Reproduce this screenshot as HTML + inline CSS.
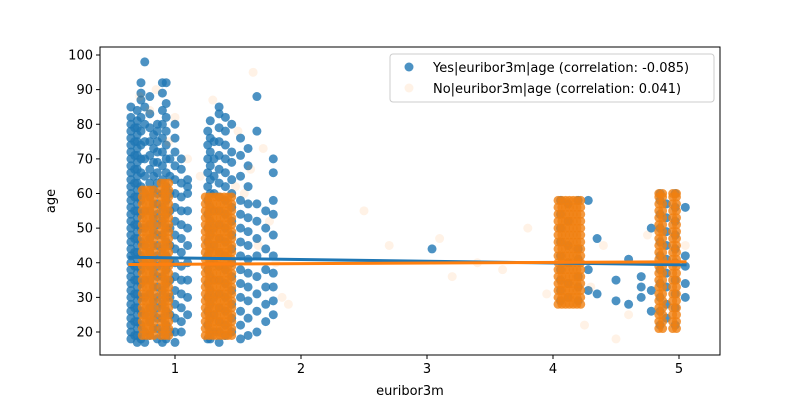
<!DOCTYPE html>
<html><head><meta charset="utf-8"><style>
body{margin:0;background:#fff}
svg text{font-family:"DejaVu Sans","Liberation Sans",sans-serif;font-size:13px;fill:#000}
</style></head><body>
<svg id="chart" width="800" height="400" xmlns="http://www.w3.org/2000/svg">
<rect width="800" height="400" fill="#fff"/>
<g id="marks"></g>
<g id="axes"></g>
</svg>
<script>
// ---- data ----
const xTicks=[1,2,3,4,5];
const yTicks=[20,30,40,50,60,70,80,90,100];
// blue (Yes) columns: x value and ages
const blueX=[0.65,0.68,0.70,0.73,0.76,0.80,0.83,0.86,0.90,0.93,0.96,1.00,1.05,1.10,1.26,1.28,1.31,1.35,1.40,1.45,1.52,1.58,1.65,1.72,1.78,3.04,4.06,4.12,4.20,4.28,4.35,4.50,4.60,4.70,4.78,4.85,4.90,4.97,5.05];
const blueAges=[
[18,20,22,24,26,28,30,32,34,36,38,40,42,44,46,48,50,52,54,56,58,60,62,64,66,68,70,72,74,76,78,80,82,85],
[19,23,27,31,35,39,43,47,51,55,59,63,67,71,75,79],
[17,19,21,23,25,27,29,31,33,35,37,39,41,43,45,47,49,51,53,55,57,59,61,63,65,67,69,71,73,75,77,79,81,84],
[18,22,26,30,34,38,42,46,50,54,58,62,66,70,74,78,82,87,89,92],
[98,85,80,75,70,65,60,55,50,45,40,35,30,25,20,17],
[19,23,27,31,35,39,43,47,51,55,59,63,67,71,75,79,83,88],
[21,25,29,33,37,41,45,49,53,57,61,65,69,73,77],
[18,21,24,27,30,33,36,39,42,45,48,51,54,57,60,63,66,69,72,75,78,80],
[17,20,24,28,32,36,40,44,48,52,56,60,64,68,72,76,80,84,89,92],
[18,22,26,30,34,38,42,46,50,54,58,62,66,70,74,78,82,86,92],
[20,25,30,35,40,45,50,55,60,65,70],
[17,20,24,28,32,36,40,44,48,52,56,60,64,68,72,76,80],
[20,23,27,31,35,39,43,47,51,55,59,63,67,70],
[25,30,35,40,45,50,55,60,62,64],
[18,22,26,30,34,38,42,46,50,54,58,62,66,70,74,78],
[18,20,24,28,32,36,40,44,48,52,56,60,64,68,72,76,81],
[20,25,30,35,40,45,50,55,60,65,70,75],
[17,20,23,27,31,35,39,43,47,51,55,59,63,67,71,75,79,83,85],
[19,22,26,30,34,38,42,46,50,54,58,62,66,70,74,78,82],
[20,24,28,32,36,40,44,48,52,56,60,64,69,72,80],
[18,22,26,30,34,38,42,46,50,54,58,65,71,76],
[19,24,29,33,37,41,45,49,53,57,62,68,73],
[88,20,26,31,36,42,47,52,57,78],
[23,28,33,38,44,50,55],
[25,29,33,37,42,48,54,58,66,70],
[44],
[29,32,35,38,42,46,50,54,58],
[30,34,40,45,52,57],
[29,33,36,41,44,58],
[32,38,58],
[31,47],
[35,29],
[28,41],
[30,33,36],
[50,26,32],
[22,26,30,34,38,42,46,50,54,58,60],
[24,28,33,37,41,45,49,53,57],
[22,27,31,35,40,44,48,52,56,60],
[56,42,39,30,34]];
// orange (No) dense clusters
const orangeDenseX=[[0.74,0.77,0.80,0.83],[0.89,0.92,0.95],[1.24,1.27,1.30,1.33,1.36,1.39,1.42,1.45],[4.04,4.07,4.10,4.13,4.16,4.19,4.22],[4.84,4.87],[4.95,4.98]];
const orangeDenseAges=[
[19,21,23,25,27,29,31,33,35,37,39,41,43,45,47,49,51,53,55,57,59,61],
[19,21,23,25,27,29,31,33,35,37,39,41,43,45,47,49,51,53,55,57,59,61,63],
[19,21,23,25,27,29,31,33,35,37,39,41,43,45,47,49,51,53,55,57,59],
[28,30,32,34,36,38,40,42,44,46,48,50,52,54,56,58],
[21,23,25,27,29,31,33,35,37,39,41,43,45,47,49,51,53,55,57,59,60],
[21,23,25,27,29,31,33,35,37,39,41,43,45,47,49,51,53,55,57,59,60]];
// orange sparse points
const orangeSparseX=[0.72,0.8,0.95,1.0,1.1,1.2,1.3,1.5,1.55,1.62,1.66,1.7,1.75,1.8,1.85,1.9,2.5,2.7,3.1,3.2,3.4,3.6,3.8,3.95,4.25,4.3,4.4,4.5,4.6,4.75,5.05,0.85,1.48,1.6];
const orangeSparseY=[88,84,75,82,70,65,87,78,60,95,45,73,52,40,30,28,55,45,47,36,40,38,50,31,22,33,45,18,25,48,45,90,62,67];
// regression lines [x0,y0,x1,y1]
const blueFit=[0.63,41.6,5.06,39.4];
const orangeFit=[0.63,39.5,5.06,40.3];

// ---- scales ----
const L=100,R=720,T=47,B=355;
const X=v=>175+(v-1)*126;
const Y=v=>332-(v-20)*3.4625;
const NS="http://www.w3.org/2000/svg";
const marks=document.getElementById('marks'), axes=document.getElementById('axes');
function mk(tag,attrs,parent){const e=document.createElementNS(NS,tag);for(const k in attrs)e.setAttribute(k,attrs[k]);parent.appendChild(e);return e;}

blueX.forEach((x,i)=>blueAges[i].forEach(a=>{
  const c=mk('circle',{cx:X(x),cy:Y(a),r:4.5,fill:'#1f77b4','fill-opacity':0.8},marks);
  
  
}));
orangeSparseX.forEach((x,i)=>{
  const c=mk('circle',{cx:X(x),cy:Y(orangeSparseY[i]),r:4.5,fill:'#ff7f0e','fill-opacity':0.1},marks);
  
  
});
orangeDenseX.forEach((xs,i)=>xs.forEach(x=>orangeDenseAges[i].forEach(a=>{
  const c=mk('circle',{cx:X(x),cy:Y(a),r:4.5,fill:'#f07f10','fill-opacity':0.8},marks);
  
  
})));
const bl=mk('line',{x1:X(blueFit[0]),y1:Y(blueFit[1]),x2:X(blueFit[2]),y2:Y(blueFit[3]),stroke:'#1f77b4','stroke-width':3},marks);


const ol=mk('line',{x1:X(orangeFit[0]),y1:Y(orangeFit[1]),x2:X(orangeFit[2]),y2:Y(orangeFit[3]),stroke:'#ff7f0e','stroke-width':3},marks);



// frame & ticks
const fr=mk('rect',{x:L,y:T,width:R-L,height:B-T,fill:'none',stroke:'#000','stroke-width':1},axes);


xTicks.forEach(t=>{
  mk('line',{x1:X(t),y1:B,x2:X(t),y2:B+4,stroke:'#000'},axes);
  const tx=mk('text',{x:X(t),y:B+18,'text-anchor':'middle'},axes);tx.textContent=t;
  
  
});
yTicks.forEach(t=>{
  mk('line',{x1:L-4,y1:Y(t),x2:L,y2:Y(t),stroke:'#000'},axes);
  const tx=mk('text',{x:L-7,y:Y(t)+4.5,'text-anchor':'end'},axes);tx.textContent=t;
  
  
});
</script>
<svg style="position:absolute;left:0;top:0" width="800" height="400">
<text x="410" y="395" text-anchor="middle">euribor3m</text>
<text x="55" y="201" text-anchor="middle" transform="rotate(-90 55 201)">age</text>
<g>
<rect x="390" y="54" width="324" height="48" rx="3" fill="#fff" fill-opacity="0.8" stroke="#ccc"/>
<circle cx="409" cy="67" r="4.5" fill="#1f77b4" fill-opacity="0.8"/>
<text x="433" y="72">Yes|euribor3m|age (correlation: -0.085)</text>
<circle cx="409" cy="88" r="4.5" fill="#ff7f0e" fill-opacity="0.1"/>
<text x="433" y="93">No|euribor3m|age (correlation: 0.041)</text>
</g>
</svg>
</body></html>
